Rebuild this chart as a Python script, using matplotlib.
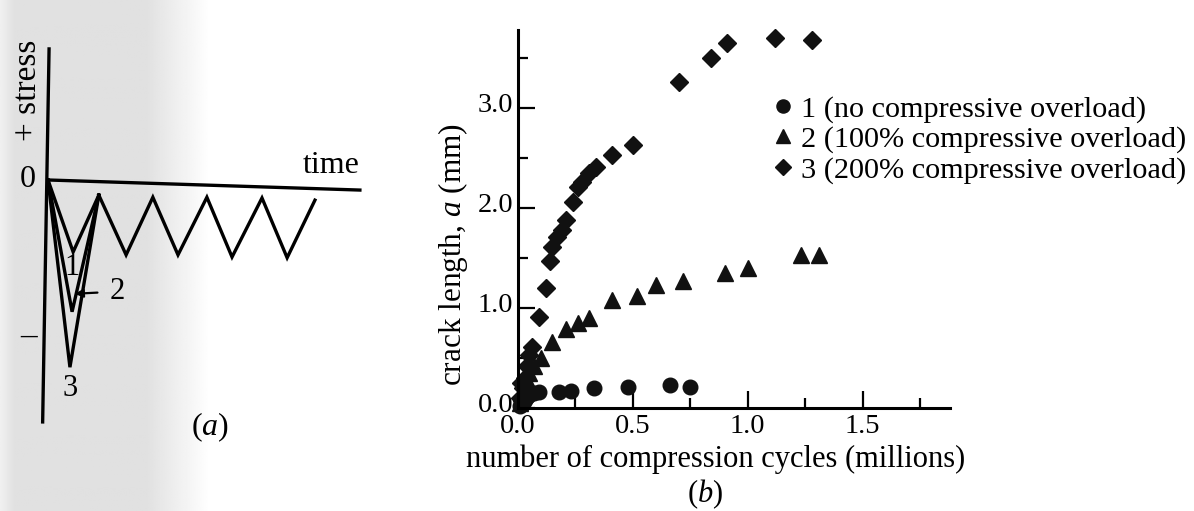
import numpy as np
import matplotlib
matplotlib.use("Agg")
import matplotlib.pyplot as plt
from matplotlib.ticker import MultipleLocator, FormatStrFormatter
from matplotlib.transforms import ScaledTranslation

plt.rcParams['font.family'] = ['Liberation Serif', 'DejaVu Serif']
plt.rcParams['mathtext.fontset'] = 'custom'
plt.rcParams['mathtext.rm'] = 'Liberation Serif'
plt.rcParams['mathtext.it'] = 'Liberation Serif:italic'

# panel (a): stress history (time in cycles, stress in units of the normal amplitude)
overload_t = [0.47, 0.45, 0.41]
overload_s = [-1.0, -1.83, -2.6]
overload_names = ['1', '2', '3']
wave_t = [0.95, 1.46, 1.96, 2.43, 2.97, 3.44, 4.0, 4.47, 4.99]
wave_s = [-0.21, -1.04, -0.24, -1.04, -0.24, -1.07, -0.25, -1.08, -0.28]

# panel (b): crack length (mm) vs cycles (millions)
n1 = [0.01, 0.015, 0.02, 0.03, 0.04, 0.05, 0.07, 0.09, 0.18, 0.23, 0.33, 0.48, 0.66, 0.75]
a1 = [0.02, 0.06, 0.04, 0.08, 0.11, 0.13, 0.15, 0.16, 0.16, 0.17, 0.20, 0.21, 0.23, 0.21]
n2 = [0.01, 0.015, 0.02, 0.03, 0.04, 0.05, 0.07, 0.10, 0.15, 0.21, 0.26, 0.31,
      0.41, 0.52, 0.60, 0.72, 0.90, 1.00, 1.23, 1.31]
a2 = [0.05, 0.15, 0.12, 0.20, 0.28, 0.35, 0.42, 0.50, 0.66, 0.79, 0.85, 0.90,
      1.08, 1.12, 1.23, 1.27, 1.35, 1.40, 1.53, 1.53]
n3 = [0.01, 0.015, 0.02, 0.03, 0.04, 0.05, 0.06, 0.09, 0.12, 0.14, 0.15, 0.17, 0.19,
      0.21, 0.24, 0.26, 0.28, 0.31, 0.34, 0.41, 0.50, 0.70, 0.84, 0.91, 1.12, 1.28]
a3 = [0.10, 0.25, 0.20, 0.30, 0.42, 0.53, 0.61, 0.91, 1.20, 1.47, 1.61, 1.71, 1.78,
      1.88, 2.06, 2.21, 2.26, 2.35, 2.41, 2.53, 2.63, 3.26, 3.50, 3.65, 3.70, 3.68]
series_labels = ['1 (no compressive overload)',
                 '2 (100% compressive overload)',
                 '3 (200% compressive overload)']

W, H = 1194, 511
fig = plt.figure(figsize=(W / 100, H / 100), dpi=100)


def box(x0, y0, x1, y1):
    # pixel box (top-left origin) -> figure fraction rect
    return [x0 / W, (H - y1) / H, (x1 - x0) / W, (y1 - y0) / H]


# grey scan shading on the far left
bg = fig.add_axes([0, 0, 210 / W, 1], zorder=-5)
shade = np.concatenate([np.linspace(0.94, 0.88, 15), np.full(130, 0.88),
                        np.linspace(0.88, 1.0, 65)])
bg.imshow(np.tile(shade, (10, 1)), cmap='gray', vmin=0, vmax=1,
          aspect='auto', extent=[0, 1, 0, 1])
bg.axis('off')

# ---------------- (a) ----------------
ax_a = fig.add_axes(box(48, 49, 360, 422))
ax_a.set_xlim(0, 5.832)
ax_a.set_ylim(-3.361, 1.819)
ax_a.axis('off')
ax_a.plot([0.02, -0.1], [1.82, -3.36], color='black', lw=2.4, clip_on=False)
ax_a.plot([0, 5.83], [0, -0.14], color='black', lw=2.4, clip_on=False)
for t, s in zip(overload_t, overload_s):
    ax_a.plot([0, t, wave_t[0]], [0, s, wave_s[0]], color='black', lw=2.4,
              solid_joinstyle='miter')
ax_a.plot(wave_t, wave_s, color='black', lw=2.4, solid_joinstyle='miter')

ax_a.text(-0.37, 0.0, '0', fontsize=23, ha='center', va='center')
ax_a.text(-0.37, 1.24, '+ stress', fontsize=24, rotation=90, ha='center', va='center')
ax_a.text(-0.37, -2.18, '\u2013', fontsize=24, ha='center', va='center')
ax_a.text(5.29, 0.2, 'time', fontsize=23, ha='center', va='center')
ax_a.text(0.45, -1.21, overload_names[0], fontsize=22, ha='center', va='center')
ax_a.annotate(overload_names[1], xy=(0.5, -1.58), xytext=(1.3, -1.55),
              fontsize=22, ha='center', va='center',
              arrowprops=dict(arrowstyle='-|>', color='black', lw=1.6,
                              shrinkA=7, shrinkB=0, mutation_scale=12))
ax_a.text(0.41, -2.89, overload_names[2], fontsize=22, ha='center', va='center')
ax_a.text(3.03, -3.44, '($a$)', fontsize=23, ha='center', va='center')

# ---------------- (b) ----------------
ax = fig.add_axes(box(518, 30, 950, 408))
mk = dict(color='#111111', linestyle='none', clip_on=False)
ax.plot(n1, a1, marker='o', markersize=10.5, label=series_labels[0], **mk)
ax.plot(n2, a2, marker='^', markersize=11.5, label=series_labels[1], **mk)
ax.plot(n3, a3, marker='D', markersize=9.5, label=series_labels[2], **mk)

ax.set_xlim(0, 1.88)
ax.set_ylim(0, 3.78)
for side in ['top', 'right']:
    ax.spines[side].set_visible(False)
for side in ['left', 'bottom']:
    ax.spines[side].set_linewidth(2.2)
ax.xaxis.set_major_locator(MultipleLocator(0.5))
ax.xaxis.set_minor_locator(MultipleLocator(0.25))
ax.yaxis.set_major_locator(MultipleLocator(1.0))
ax.yaxis.set_minor_locator(MultipleLocator(0.5))
ax.xaxis.set_major_formatter(FormatStrFormatter('%.1f'))
ax.yaxis.set_major_formatter(FormatStrFormatter('%.1f'))
ax.tick_params(which='major', direction='in', length=12, width=1.6,
               labelsize=20.5)
ax.tick_params(axis='x', which='major', pad=4)
ax.tick_params(axis='y', which='major', pad=3.5)
ax.tick_params(which='minor', direction='in', length=7, width=1.6)
# the scanned y labels sit a few pixels above their ticks
for lbl in ax.get_yticklabels():
    lbl.set_transform(lbl.get_transform() + ScaledTranslation(0, 0.06, fig.dpi_scale_trans))

ax.set_xlabel('number of compression cycles (millions)', fontsize=22)
ax.xaxis.set_label_coords(0.457, -0.097)
ax.set_ylabel('crack length, $a$ (mm)', fontsize=22.5)
ax.yaxis.set_label_coords(-0.111, 0.405)
ax.text(0.434, -0.228, '($b$)', transform=ax.transAxes, fontsize=22,
        ha='center', va='center')

fig.legend(loc='upper left', bbox_to_anchor=(774 / W, 1 - 95 / H),
           frameon=False, fontsize=21.8, borderpad=0, borderaxespad=0,
           handlelength=0.6, handletextpad=0.3, labelspacing=0.1,
           numpoints=1, markerscale=0.9)

fig.savefig('out.png', dpi=100)
